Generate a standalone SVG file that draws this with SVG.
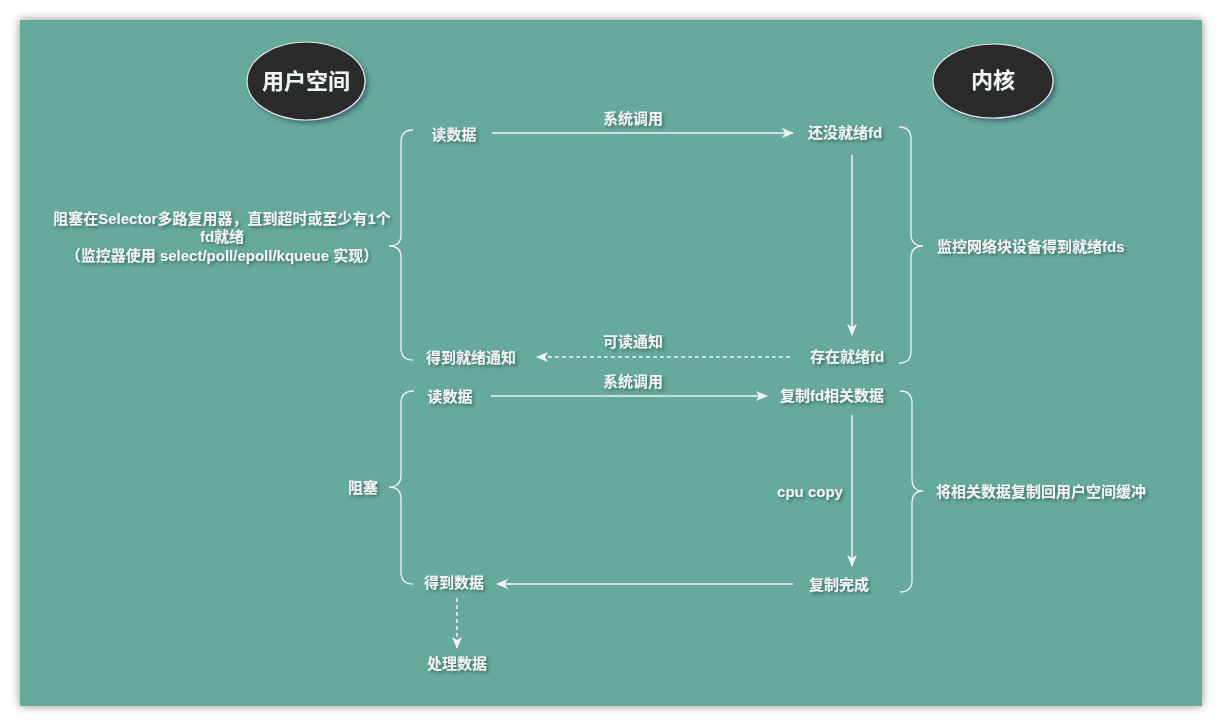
<svg xmlns="http://www.w3.org/2000/svg" width="1222" height="726" viewBox="0 0 1222 726">
<defs>
<filter id="panelShadow" x="-5%" y="-5%" width="110%" height="110%">
<feDropShadow dx="0" dy="0" stdDeviation="5" flood-color="#000" flood-opacity="0.45"/>
</filter>
<filter id="ts" x="-20%" y="-40%" width="140%" height="180%">
<feDropShadow dx="2" dy="2" stdDeviation="1.5" flood-color="#1d3d37" flood-opacity="0.55"/>
</filter>
<filter id="es" x="-20%" y="-20%" width="140%" height="140%">
<feDropShadow dx="3" dy="3" stdDeviation="2" flood-color="#2a4a60" flood-opacity="0.6"/>
</filter>
<marker id="ah" viewBox="0 0 12 10" refX="11" refY="5" markerWidth="12" markerHeight="10" markerUnits="userSpaceOnUse" orient="auto">
<path d="M0,0 L12,5 L0,10 L3,5 z" fill="#f2f2f2"/>
</marker>
<style>
.t{font-family:"Liberation Sans","Noto Sans CJK SC",sans-serif;font-weight:bold;font-size:15px;fill:#f4f4f4;text-anchor:middle;dominant-baseline:central;filter:url(#ts)}
.ts{text-anchor:start}
.title{font-size:22px}
.ln{fill:none;stroke:#f2f2f2;stroke-width:1.5}
.dash{stroke-dasharray:4 3}
.br{fill:none;stroke:#f2f2f2;stroke-width:1.3}
</style>
</defs>
<rect x="0" y="0" width="1222" height="726" fill="#ffffff"/>
<rect x="20" y="20" width="1182" height="686" fill="#66aa9c" filter="url(#panelShadow)"/>

<g id="user-space">
<ellipse cx="306" cy="81" rx="59" ry="39" fill="#2a2a2a" stroke="#e8e8e8" stroke-width="1.2" filter="url(#es)"/>
<text class="t title" x="306" y="81">用户空间</text>
</g>
<g id="kernel">
<ellipse cx="993" cy="81" rx="60" ry="37" fill="#2a2a2a" stroke="#e8e8e8" stroke-width="1.2" filter="url(#es)"/>
<text class="t title" x="993" y="80">内核</text>
</g>

<g id="brackets">
<path class="br" d="M413,130 Q401,130 401,142 L401,235 Q401,246 389,246 Q401,246 401,257 L401,348 Q401,360 413,360"/>
<path class="br" d="M899,127 Q911,127 911,139 L911,234 Q911,246 923,246 Q911,246 911,258 L911,351 Q911,363 899,363"/>
<path class="br" d="M414,391 Q401,391 401,403 L401,475 Q401,487 389,487 Q401,487 401,499 L401,572 Q401,584 413,584"/>
<path class="br" d="M900,391 Q912,391 912,403 L912,479 Q912,491 923,491 Q912,491 912,503 L912,580 Q912,592 900,592"/>
</g>

<g id="connectors">
<line class="ln" x1="492" y1="133" x2="793" y2="133" marker-end="url(#ah)"/>
<line class="ln" x1="852" y1="155" x2="852" y2="335" marker-end="url(#ah)"/>
<line class="ln dash" x1="790" y1="357" x2="537" y2="357" marker-end="url(#ah)"/>
<line class="ln" x1="491" y1="396" x2="767" y2="396" marker-end="url(#ah)"/>
<line class="ln" x1="852" y1="415" x2="852" y2="566" marker-end="url(#ah)"/>
<line class="ln" x1="793" y1="584" x2="497" y2="584" marker-end="url(#ah)"/>
<line class="ln dash" x1="457" y1="598" x2="457" y2="648" marker-end="url(#ah)"/>
</g>

<g id="n-read1"><text class="t" x="454" y="134">读数据</text></g>
<g id="l-syscall1"><text class="t" x="633" y="118">系统调用</text></g>
<g id="n-notready"><text class="t" x="845" y="132">还没就绪fd</text></g>
<g id="n-ready"><text class="t" x="847" y="356">存在就绪fd</text></g>
<g id="l-readable"><text class="t" x="633" y="341">可读通知</text></g>
<g id="n-notified"><text class="t" x="471" y="357">得到就绪通知</text></g>
<g id="l-syscall2"><text class="t" x="633" y="381">系统调用</text></g>
<g id="n-read2"><text class="t" x="450" y="396">读数据</text></g>
<g id="n-copy"><text class="t" x="832" y="395">复制fd相关数据</text></g>
<g id="l-cpucopy"><text class="t" x="810" y="491">cpu copy</text></g>
<g id="n-copied"><text class="t" x="839" y="584">复制完成</text></g>
<g id="n-got"><text class="t" x="454" y="582">得到数据</text></g>
<g id="n-process"><text class="t" x="457" y="663">处理数据</text></g>
<g id="l-block"><text class="t" x="363" y="487">阻塞</text></g>
<g id="l-selector">
<text class="t" x="222" y="218">阻塞在Selector多路复用器，直到超时或至少有1个</text>
<text class="t" x="222" y="236">fd就绪</text>
<text class="t" x="222" y="255">（监控器使用 select/poll/epoll/kqueue 实现）</text>
</g>
<g id="l-monitor"><text class="t ts" x="937" y="246">监控网络块设备得到就绪fds</text></g>
<g id="l-copyback"><text class="t ts" x="936" y="491">将相关数据复制回用户空间缓冲</text></g>
</svg>
